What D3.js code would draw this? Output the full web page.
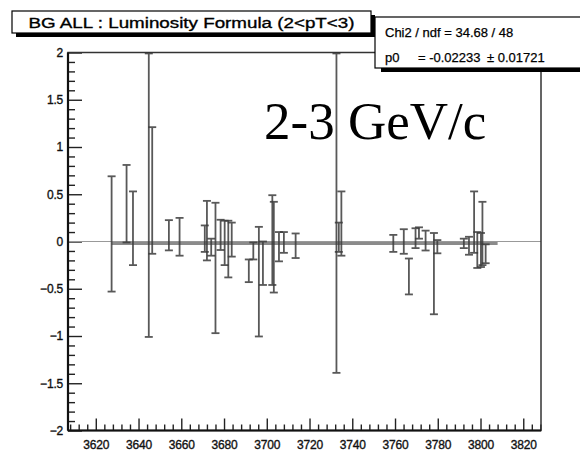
<!DOCTYPE html>
<html>
<head>
<meta charset="utf-8">
<script src="https://cdn.jsdelivr.net/npm/d3@7"></script>
<style>
  html, body { margin: 0; padding: 0; background: #fff; }
  svg { display: block; }
  text { font-family: "Liberation Sans", Arial, sans-serif; }
</style>
</head>
<body>
<svg id="chart" width="580" height="456"></svg>
<script>
// Run numbers, asymmetry values and their errors
const runs = [3627.4, 3634.4, 3637.4, 3644.8, 3646.4, 3654.2, 3659.2, 3671, 3672, 3674,
              3676, 3678.4, 3680.3, 3682, 3683.6, 3691.6, 3693.7, 3696.3, 3698.2, 3702.6,
              3703.3, 3705.7, 3708, 3713.5, 3732.6, 3733.7, 3734.9, 3759.2, 3764.1, 3766.5,
              3769.6, 3771.2, 3774.3, 3778.2, 3779.8, 3792.2, 3794.6, 3797, 3798.5, 3800.2,
              3800.9, 3802.4];
const values = [0.08, 0.40, 0.14, 0.49, 0.54, 0.066, 0.05, 0.03, 0.115, -0.06,
                -0.28, 0.07, -0.015, -0.08, 0.02, -0.31, -0.10, -0.425, -0.23, 0.015,
                -0.06, -0.055, -0.01, -0.045, 0.30, 0.045, 0.19, -0.02, 0.0, -0.37,
                0.035, 0.09, 0.01, -0.34, -0.055, -0.02, -0.045, 0.205, -0.09, -0.09,
                0.085, -0.13];
const errors = [0.61, 0.41, 0.39, 1.50, 0.67, 0.16, 0.20, 0.14, 0.315, 0.09,
                0.69, 0.16, 0.235, 0.30, 0.18, 0.12, 0.09, 0.58, 0.23, 0.475,
                0.48, 0.155, 0.11, 0.13, 1.69, 0.155, 0.34, 0.09, 0.13, 0.19,
                0.105, 0.06, 0.105, 0.43, 0.07, 0.05, 0.095, 0.325, 0.19, 0.18,
                0.335, 0.10];

// Constant fit result
const fitValue = -0.02233;
const fitError = 0.01721;
const fitRange = [3627.4, 3808];
const chi2 = 34.68, ndf = 48;

const xTicks = [3620, 3640, 3660, 3680, 3700, 3720, 3740, 3760, 3780, 3800, 3820];
const yTicks = [-2, -1.5, -1, -0.5, 0, 0.5, 1, 1.5, 2];

const titleText = "BG ALL : Luminosity Formula (2<pT<3)";
const bandText = "2-3 GeV/c";

const svg = d3.select("#chart");
const frame = { left: 68, right: 541, top: 52.5, bottom: 430.5 };

const x = d3.scaleLinear().domain([3607, 3828.3]).range([frame.left, frame.right]);
const y = d3.scaleLinear().domain([-2, 2]).range([frame.bottom, frame.top]);

svg.append("defs").append("clipPath").attr("id", "plotclip")
  .append("rect")
  .attr("x", frame.left).attr("y", frame.top - 1)
  .attr("width", frame.right - frame.left).attr("height", frame.bottom - frame.top + 2);

// Large pT-bin label
svg.append("text")
  .attr("x", 264).attr("y", 139)
  .style("font-family", "'Liberation Serif', 'Times New Roman', serif")
  .style("font-size", "53px")
  .attr("fill", "#000")
  .text(bandText);

// Minor ticks
const xMinor = d3.range(3608, 3829, 4).filter(v => v % 20 !== 0);
const yMinor = d3.range(-20, 21).map(i => i / 10).filter(v => Math.abs(v * 2 - Math.round(v * 2)) > 1e-6);

svg.append("g")
  .attr("transform", `translate(0,${frame.bottom})`)
  .call(d3.axisBottom(x).tickValues(xMinor).tickSizeInner(-6).tickSizeOuter(0).tickFormat(""))
  .call(g => g.select(".domain").remove())
  .call(g => g.selectAll("line").attr("stroke", "#222").attr("stroke-width", 1.4));

svg.append("g")
  .attr("transform", `translate(${frame.left},0)`)
  .call(d3.axisLeft(y).tickValues(yMinor).tickSizeInner(-7).tickSizeOuter(0).tickFormat(""))
  .call(g => g.select(".domain").remove())
  .call(g => g.selectAll("line").attr("stroke", "#222").attr("stroke-width", 1.4));

// Major ticks and labels
const labelStyle = g => g.selectAll("text")
  .attr("fill", "#111").attr("stroke", "#111").attr("stroke-width", 0.35)
  .style("font-size", "12px").style("letter-spacing", "-0.2px");

svg.append("g")
  .attr("transform", `translate(0,${frame.bottom})`)
  .call(d3.axisBottom(x).tickValues(xTicks).tickSizeInner(-12).tickSizeOuter(0).tickPadding(10)
    .tickFormat(d3.format("d")))
  .call(g => g.select(".domain").remove())
  .call(g => g.selectAll("line").attr("stroke", "#222").attr("stroke-width", 1.4))
  .call(labelStyle);

svg.append("g")
  .attr("transform", `translate(${frame.left},0)`)
  .call(d3.axisLeft(y).tickValues(yTicks).tickSizeInner(-14).tickSizeOuter(0).tickPadding(5)
    .tickFormat(d => d3.format("")(d)))
  .call(g => g.select(".domain").remove())
  .call(g => g.selectAll("line").attr("stroke", "#222").attr("stroke-width", 1.4))
  .call(labelStyle);

// Zero reference line
svg.append("line")
  .attr("x1", frame.left).attr("x2", frame.right)
  .attr("y1", y(0)).attr("y2", y(0))
  .attr("stroke", "#999").attr("stroke-width", 1.2);

// Fit line
svg.append("line")
  .attr("x1", x(fitRange[0])).attr("x2", x(fitRange[1]))
  .attr("y1", y(fitValue)).attr("y2", y(fitValue))
  .attr("stroke", "#777").attr("stroke-width", 3).attr("opacity", 0.85);

// Error bars
const pts = runs.map((r, i) => ({ r, v: values[i], e: errors[i] }));
const bars = svg.append("g").attr("clip-path", "url(#plotclip)");
const capW = 4;
pts.forEach(p => {
  const g = bars.append("g").attr("stroke", "#3c3c3c").attr("stroke-width", 1.8).attr("opacity", 0.85);
  const lo = p.v - p.e, hi = p.v + p.e;
  g.append("line")
    .attr("x1", x(p.r)).attr("x2", x(p.r))
    .attr("y1", y(Math.max(lo, -2))).attr("y2", y(Math.min(hi, 2)));
  [lo, hi].forEach(v => {
    if (v >= -2.001 && v <= 2.001) {
      g.append("line")
        .attr("x1", x(p.r) - capW).attr("x2", x(p.r) + capW)
        .attr("y1", y(v)).attr("y2", y(v));
    }
  });
});

// Frame
svg.append("rect")
  .attr("x", frame.left).attr("y", frame.top)
  .attr("width", frame.right - frame.left).attr("height", frame.bottom - frame.top)
  .attr("fill", "none").attr("stroke", "#333").attr("stroke-width", 1.5);
svg.append("line")
  .attr("x1", frame.left).attr("x2", frame.left)
  .attr("y1", frame.top).attr("y2", frame.bottom)
  .attr("stroke", "#111").attr("stroke-width", 2.2);
svg.append("line")
  .attr("x1", frame.left).attr("x2", frame.right)
  .attr("y1", frame.bottom).attr("y2", frame.bottom)
  .attr("stroke", "#111").attr("stroke-width", 2.2);

// Title box with shadow
const tb = { x: 12, y: 11, w: 359, h: 22 };
svg.append("rect").attr("x", tb.x + 4).attr("y", tb.y + 4).attr("width", tb.w).attr("height", tb.h).attr("fill", "#000");
svg.append("rect").attr("x", tb.x).attr("y", tb.y).attr("width", tb.w).attr("height", tb.h)
  .attr("fill", "#fff").attr("stroke", "#000").attr("stroke-width", 1.2);
svg.append("text")
  .attr("x", tb.x + tb.w / 2).attr("y", tb.y + 16.5)
  .attr("text-anchor", "middle")
  .attr("textLength", 326).attr("lengthAdjust", "spacingAndGlyphs")
  .style("font-size", "15.5px").attr("fill", "#000").attr("stroke", "#000").attr("stroke-width", 0.35)
  .text(titleText);

// Statistics box with shadow
const sb = { x: 375, y: 17, w: 220, h: 51 };
svg.append("rect").attr("x", sb.x + 6).attr("y", sb.y + 4).attr("width", sb.w).attr("height", sb.h).attr("fill", "#000");
svg.append("rect").attr("x", sb.x).attr("y", sb.y).attr("width", sb.w).attr("height", sb.h)
  .attr("fill", "#fff").attr("stroke", "#000").attr("stroke-width", 1.2);
const statStyle = t => t.style("font-size", "13px").attr("fill", "#000")
  .attr("stroke", "#000").attr("stroke-width", 0.25);
svg.append("text")
  .attr("x", 385).attr("y", 37)
  .call(statStyle)
  .text(`Chi2 / ndf = ${chi2.toFixed(2)} / ${ndf}`);
svg.append("text")
  .attr("x", 385).attr("y", 62)
  .call(statStyle)
  .text("p0");
svg.append("text")
  .attr("x", 418).attr("y", 62)
  .call(statStyle)
  .text(`= ${fitValue.toFixed(5)}`);
svg.append("text")
  .attr("x", 487).attr("y", 62)
  .call(statStyle)
  .text(`\u00b1 ${fitError.toFixed(5)}`);
</script>
</body>
</html>
